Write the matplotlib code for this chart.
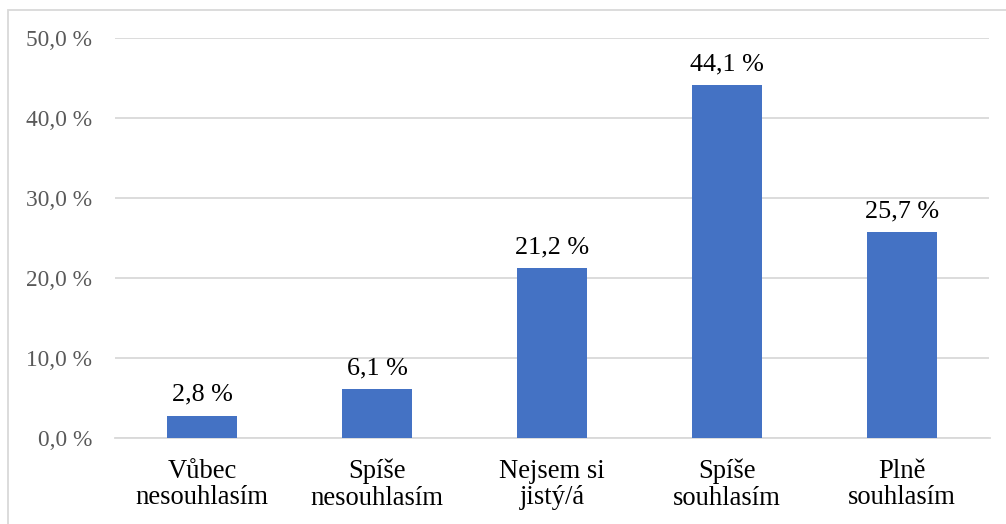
import matplotlib
matplotlib.use("Agg")
import matplotlib.pyplot as plt
from matplotlib.patches import Rectangle

categories = ["Vůbec\nnesouhlasím", "Spíše\nnesouhlasím", "Nejsem si\njistý/á", "Spíše\nsouhlasím", "Plně\nsouhlasím"]
values = [2.8, 6.1, 21.2, 44.1, 25.7]
yticks = [0, 10, 20, 30, 40, 50]

plt.rcParams['font.family'] = ['Liberation Serif', 'DejaVu Serif']

W, H = 1006, 524
fig = plt.figure(figsize=(W/100, H/100), dpi=100)
ax = fig.add_axes([114.5/W, 1-438/H, 875/W, 400/H])

x = range(len(categories))
ax.bar(x, values, width=0.4, color="#4472C4", zorder=3)
for xi, v in zip(x, values):
    ax.annotate(f"{v:.1f} %".replace(".", ","), (xi, v), xytext=(0, 7), textcoords="offset points",
                ha="center", va="bottom", fontsize=18.8, color="black")

ax.set_xlim(-0.5, len(categories)-0.5)
ax.set_ylim(0, 50)
ax.set_yticks(yticks)
ax.set_yticklabels([f"{t:.1f} %".replace(".", ",") for t in yticks], fontsize=16.8, color="#595959")
ax.set_xticks(list(x))
ax.set_xticklabels(categories, fontsize=19.2, color="black", linespacing=1.08)
ax.tick_params(axis="y", length=0, pad=16)
ax.tick_params(axis="x", length=0, pad=15)
ax.grid(axis="y", color="#d9d9d9", linewidth=1.3, zorder=0)
for s in ["top", "right", "left"]:
    ax.spines[s].set_visible(False)
ax.spines["bottom"].set_color("#d9d9d9")
ax.spines["bottom"].set_linewidth(1.3)

fig.patches.append(Rectangle((8/W, -0.05), 1.2, 1-10/H+0.05, transform=fig.transFigure,
                             fill=False, edgecolor="#d9d9d9", linewidth=1.3))

fig.savefig("out.png", dpi=100)
